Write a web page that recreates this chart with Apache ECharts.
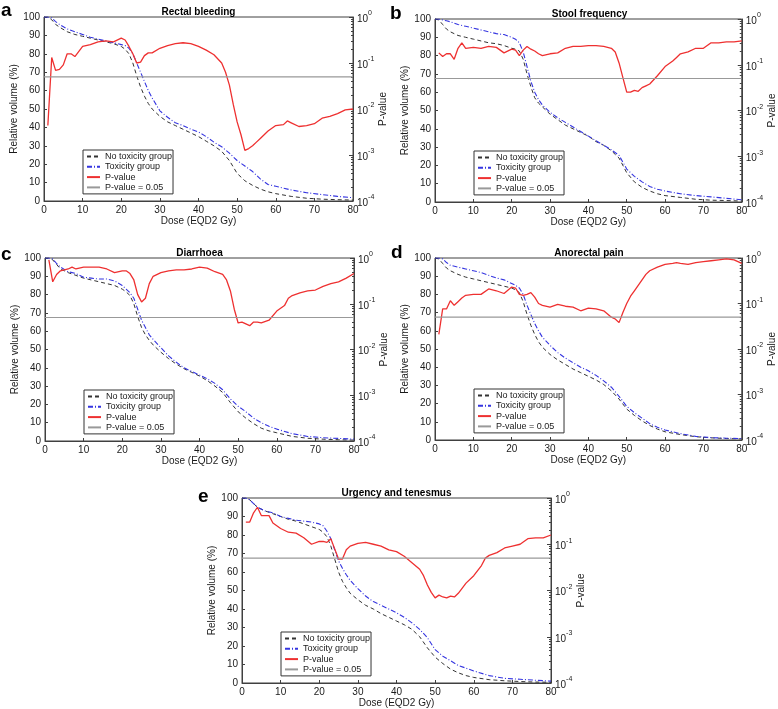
<!DOCTYPE html>
<html>
<head>
<meta charset="utf-8">
<script src="https://cdn.jsdelivr.net/npm/echarts@6/dist/echarts.min.js"></script>
<style>
  html, body { margin: 0; padding: 0; background: #fff; }
  #main { width: 778px; height: 709px; }
</style>
</head>
<body>
<div id="main"></div>
<script>
// dose grids (EQD2 Gy)
var doseDvh = [0,1,2,3,4,6,8,10,12,14,16,18,20,21,22,23,24,25,26,27,28,30,32,34,36,38,40,42,44,46,48,50,52,54,56,58,60,64,68,72,76,80];
var doseP = [1,2,3,4,5,6,7,8,10,12,14,16,18,20,21,22,23,24,25,26,27,28,30,32,34,36,38,40,42,44,46,47,48,49,50,51,52,53,54,55,56,58,60,62,63,64,66,68,70,72,74,76,78,80];

// a - Rectal bleeding
var noToxA = [100,100,98.5,96,94.5,92,90.5,89.5,88.5,87.5,86.5,85.5,84,82.5,80,75,68,62,57,53,50,46,43,41,39,37,35,32.5,30,27,22,15,11,8.5,6.5,5,4,2.5,1.5,1,0.7,0.5];
var toxA = [100,100,99.5,97.5,96,93.5,92,90.5,89,88,87,86,85,84.5,83,80,75,70,65,60,56,49,45.5,42.5,41,39,37.5,35,32,29.5,26,22,19,16,12,9,8,6,4.5,3.5,2.5,1.8];
// log10 of p-value
var logPA = [-2.36,-0.88,-1.16,-1.14,-1.04,-0.80,-0.80,-0.86,-0.64,-0.60,-0.54,-0.52,-0.54,-0.46,-0.50,-0.64,-0.80,-1.00,-0.98,-0.84,-0.78,-0.78,-0.68,-0.62,-0.58,-0.56,-0.58,-0.64,-0.72,-0.82,-1.00,-1.20,-1.48,-1.90,-2.28,-2.56,-2.90,-2.86,-2.80,-2.72,-2.64,-2.48,-2.36,-2.34,-2.26,-2.30,-2.38,-2.36,-2.32,-2.20,-2.16,-2.10,-2.02,-2.00];

// b - Stool frequency
var noToxB = [100,99.5,97,94.5,93,91,90,89,88,87,86.5,85.5,84,83.5,82.5,78,70,63,57,54,52,48,45,42,40,38,36,33,31,28,24,16,11,8,6,4.5,3.5,2.5,1.5,1,0.8,0.5];
var toxB = [100,100,99.5,99,98.5,97,96,95,94,93,92,91.5,90,89,87,82,74,66,60,56,53,49,46,43.5,41,38.5,36,33.5,31,28.5,25.5,18,14,11,8.5,7,6,4.5,3.5,2.8,2,1.2];
var logPB = [-0.74,-0.82,-0.76,-0.76,-0.88,-0.64,-0.52,-0.64,-0.62,-0.64,-0.60,-0.62,-0.74,-0.66,-0.68,-0.80,-0.68,-0.60,-0.66,-0.70,-0.76,-0.80,-0.76,-0.74,-0.64,-0.60,-0.60,-0.58,-0.58,-0.60,-0.64,-0.72,-0.96,-1.28,-1.60,-1.60,-1.56,-1.58,-1.50,-1.46,-1.42,-1.24,-1.04,-0.92,-0.84,-0.76,-0.72,-0.64,-0.64,-0.52,-0.52,-0.50,-0.50,-0.48];

// c - Diarrhoea
var noToxC = [100,100,99,96.5,94,92,90.5,89,88,87,86,85,83,81.5,79.5,75,68,62,58,55,52.5,48.5,45,42,39.5,37.5,35.5,33,30,26.5,21,16,12.5,9.5,7,5.5,4.5,2.5,1.5,1,0.7,0.5];
var toxC = [100,100,99.5,97,95,92.5,91.5,89.5,89,88.5,88.5,87.5,85,83,81,78,72,66,62,58,55.5,51,46.5,43,40,38,36,34,31.5,28,23,19,16,12.5,10,8,6.5,4,2.5,1.8,1.4,1];
var logPC = [-0.04,-0.52,-0.36,-0.28,-0.26,-0.24,-0.20,-0.24,-0.20,-0.20,-0.20,-0.24,-0.32,-0.28,-0.28,-0.34,-0.48,-0.80,-0.96,-0.88,-0.56,-0.40,-0.32,-0.28,-0.26,-0.26,-0.24,-0.20,-0.22,-0.30,-0.36,-0.48,-0.72,-1.12,-1.42,-1.40,-1.44,-1.48,-1.40,-1.40,-1.42,-1.36,-1.16,-1.04,-0.88,-0.82,-0.76,-0.72,-0.70,-0.62,-0.56,-0.52,-0.44,-0.34];

// d - Anorectal pain
var noToxD = [100,99.5,97,94.5,93,91,89.5,88.5,87.5,86.5,85.5,84.5,83.5,82.5,81,76,69,63,58,54,51,47,44,41.5,39,37,35,33,30.5,27,22.5,17,13.5,10.5,8,6,4.5,3,1.8,1.2,0.8,0.6];
var toxD = [100,100,99.5,97.5,96,95,94,93,92,90.5,89,88,86,85,83.5,80,74,69,64,60,56.5,52,48,45,42.5,40,38,35.5,32.5,29,24,18.5,15,12,9,7,5.5,3.5,2,1.3,1,0.8];
var logPD = [-1.68,-1.12,-1.12,-0.94,-1.04,-0.96,-0.88,-0.82,-0.80,-0.80,-0.68,-0.72,-0.78,-0.64,-0.66,-0.80,-0.82,-0.80,-0.76,-0.86,-1.00,-1.04,-1.08,-1.02,-1.06,-1.08,-1.16,-1.10,-1.12,-1.16,-1.30,-1.34,-1.42,-1.20,-1.00,-0.84,-0.72,-0.60,-0.48,-0.36,-0.28,-0.20,-0.14,-0.12,-0.10,-0.12,-0.14,-0.10,-0.08,-0.06,-0.04,-0.02,-0.04,-0.12];

// e - Urgency and tenesmus
var noToxE = [100,100,99,97,95,93,91.5,90,88.5,87.5,86,84.5,83,81.5,79,74,67,60,55,51.5,48.5,45,42,40,37.5,35.5,33.5,31.5,29,25,19,14,10.5,7.5,5.5,4,3,1.8,1.2,0.8,0.5,0.4];
var toxE = [100,100,99,97,95,93,92,90,89,88,87.5,87,86,85,82,78,72,66,62,58.5,55.5,51,47,44,42,40,38,35.5,32.5,29,24.5,18,14.5,12,9.5,8,6.5,4,2.5,2,1.5,1];
var logPE = [-0.52,-0.52,-0.32,-0.20,-0.38,-0.38,-0.38,-0.54,-0.66,-0.74,-0.76,-0.86,-1.00,-0.94,-0.94,-0.96,-0.88,-1.10,-1.32,-1.32,-1.12,-1.04,-0.98,-0.96,-1.00,-1.04,-1.12,-1.16,-1.26,-1.40,-1.54,-1.68,-1.88,-2.04,-2.16,-2.10,-2.14,-2.16,-2.12,-2.14,-2.06,-1.84,-1.68,-1.46,-1.30,-1.24,-1.18,-1.08,-1.04,-1.00,-0.88,-0.86,-0.86,-0.80];

var pCut = Math.log10(0.05);
var legendNames = ['No toxicity group', 'Toxicity group', 'P-value', 'P-value = 0.05'];

var panels = [
  { letter: 'a', title: 'Rectal bleeding', noTox: noToxA, tox: toxA, logP: logPA, box: [44, 17, 309, 184], lp: [1, 1.5] },
  { letter: 'b', title: 'Stool frequency', noTox: noToxB, tox: toxB, logP: logPB, box: [435, 19, 309, 183], lp: [390, 4] },
  { letter: 'c', title: 'Diarrhoea', noTox: noToxC, tox: toxC, logP: logPC, box: [45, 258, 309, 183], lp: [1, 245.5] },
  { letter: 'd', title: 'Anorectal pain', noTox: noToxD, tox: toxD, logP: logPD, box: [435, 258, 308, 182], lp: [391, 243.5] },
  { letter: 'e', title: 'Urgency and tenesmus', noTox: noToxE, tox: toxE, logP: logPE, box: [242, 498, 309, 185], lp: [198, 487.5] }
];

function zip(xs, ys) {
  return xs.map(function (x, i) { return [x, ys[i]]; });
}

var minorLog = [];
for (var n = -4; n < 0; n++) {
  for (var k = 2; k <= 9; k++) minorLog.push(n + Math.log10(k));
}

var txt = '#1a1a1a';
var axisCol = '#404040';
var font = '"Liberation Sans", Arial, Helvetica, sans-serif';

var chart = echarts.init(document.getElementById('main'));

var option = {
  animation: false,
  backgroundColor: '#fff',
  textStyle: { fontFamily: font },
  grid: [], xAxis: [], yAxis: [], series: [], legend: [], graphic: []
};

panels.forEach(function (p, i) {
  var b = p.box;
  option.grid.push({
    left: b[0], top: b[1], width: b[2], height: b[3],
    show: true, borderColor: axisCol, borderWidth: 1
  });

  option.xAxis.push({
    gridIndex: i, type: 'value', min: 0, max: 80, interval: 10,
    name: 'Dose (EQD2 Gy)', nameLocation: 'middle', nameGap: 13,
    nameTextStyle: { fontSize: 10, color: txt },
    axisLine: { lineStyle: { color: axisCol } },
    axisTick: { inside: true, length: 3, lineStyle: { color: axisCol } },
    axisLabel: { fontSize: 10, color: txt, margin: 4 },
    splitLine: { show: false }
  });

  var yi = option.yAxis.length;
  option.yAxis.push({
    gridIndex: i, type: 'value', min: 0, max: 100, interval: 10,
    name: 'Relative volume (%)', nameLocation: 'middle', nameGap: 18,
    nameTextStyle: { fontSize: 10, color: txt },
    axisLine: { lineStyle: { color: axisCol } },
    axisTick: { inside: true, length: 3, lineStyle: { color: axisCol } },
    axisLabel: { fontSize: 10, color: txt, margin: 4 },
    splitLine: { show: false }
  });
  option.yAxis.push({
    gridIndex: i, type: 'value', position: 'right', min: -4, max: 0, interval: 1,
    name: 'P-value', nameLocation: 'middle', nameGap: 21, nameRotate: 90,
    nameTextStyle: { fontSize: 10, color: txt },
    axisLine: { lineStyle: { color: axisCol } },
    axisTick: { inside: true, length: 4, lineStyle: { color: axisCol } },
    axisLabel: {
      color: txt, margin: 4,
      formatter: function (v) { return '{b|10}{s|' + v + '}'; },
      rich: {
        b: { fontSize: 10, lineHeight: 14, verticalAlign: 'bottom', color: txt },
        s: { fontSize: 7, verticalAlign: 'top', color: txt }
      }
    },
    splitLine: { show: false }
  });
  option.yAxis.push({
    gridIndex: i, type: 'value', position: 'right', min: -4, max: 0,
    axisLine: { show: false },
    axisLabel: { show: false },
    axisTick: { inside: true, length: 2, customValues: minorLog, lineStyle: { color: axisCol } },
    splitLine: { show: false }
  });

  option.series.push({
    name: 'No toxicity group', type: 'line', xAxisIndex: i, yAxisIndex: yi,
    data: zip(doseDvh, p.noTox), symbol: 'none',
    itemStyle: { color: '#333' },
    lineStyle: { color: '#333', width: 1, type: [4, 3] }
  });
  option.series.push({
    name: 'Toxicity group', type: 'line', xAxisIndex: i, yAxisIndex: yi,
    data: zip(doseDvh, p.tox), symbol: 'none',
    itemStyle: { color: '#3535e0' },
    lineStyle: { color: '#3535e0', width: 1.1, type: [5, 2, 1, 2] }
  });
  option.series.push({
    name: 'P-value', type: 'line', xAxisIndex: i, yAxisIndex: yi + 1,
    data: zip(doseP, p.logP), symbol: 'none',
    itemStyle: { color: '#ee3030' },
    lineStyle: { color: '#ee3030', width: 1.3 }
  });
  option.series.push({
    name: 'P-value = 0.05', type: 'line', xAxisIndex: i, yAxisIndex: yi + 1,
    data: [[0, pCut], [80, pCut]], symbol: 'none',
    itemStyle: { color: '#999' },
    lineStyle: { color: '#999', width: 1.2 }
  });

  option.legend.push({
    data: legendNames, orient: 'vertical',
    left: b[0] + 39, top: b[1] + b[3] - 51,
    itemWidth: 13, itemHeight: 10, itemGap: 1.3,
    padding: [2, 1, 2, 3],
    itemStyle: { opacity: 0 },
    borderColor: '#333', borderWidth: 1, backgroundColor: '#fff',
    textStyle: { fontSize: 9, color: txt },
    selectedMode: false
  });

  option.graphic.push({
    type: 'text', x: p.lp[0], y: p.lp[1],
    style: { text: p.letter, font: 'bold 19px ' + font, fill: '#000', textVerticalAlign: 'top' }
  });
  option.graphic.push({
    type: 'text', x: b[0] + b[2] / 2, y: b[1] - 5,
    style: { text: p.title, font: 'bold 10px ' + font, fill: '#000', textAlign: 'center', textVerticalAlign: 'middle' }
  });
});

chart.setOption(option);
</script>
</body>
</html>
